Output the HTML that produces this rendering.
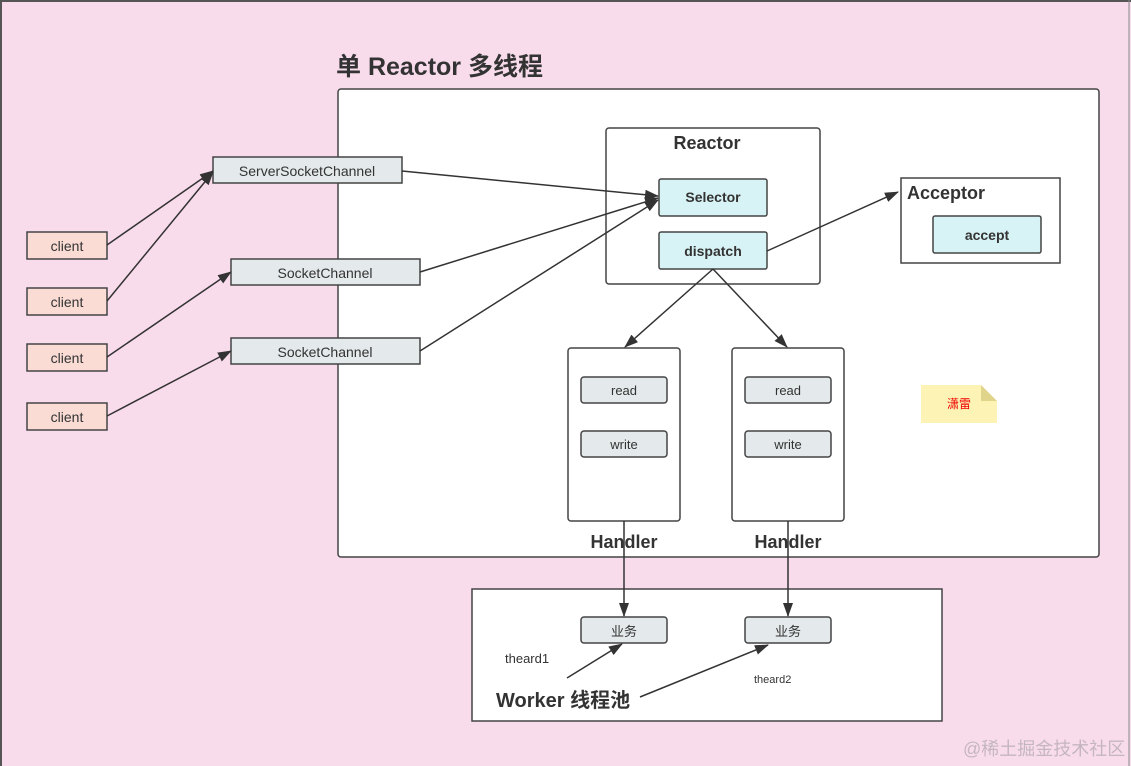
<!DOCTYPE html>
<html><head><meta charset="utf-8"><style>
html,body{margin:0;padding:0;width:1131px;height:766px;overflow:hidden;background:#f9dcec}
svg text{font-family:"Liberation Sans","Noto Sans CJK SC",sans-serif;fill:#333}
</style></head><body>
<svg width="1131" height="766" xmlns="http://www.w3.org/2000/svg">
<defs><marker id="a" markerWidth="14" markerHeight="10" refX="13" refY="5" orient="auto" markerUnits="userSpaceOnUse"><path d="M0,0 L14,5 L0,10 z" fill="#333"/></marker></defs>
<rect x="0" y="0" width="1131" height="766" fill="#f9dcec"/>
<line x1="1" y1="0" x2="1" y2="766" stroke="#555" stroke-width="2"/>
<line x1="0" y1="1" x2="1131" y2="1" stroke="#555" stroke-width="2"/>
<line x1="1129" y1="0" x2="1129" y2="766" stroke="#888" stroke-width="1"/>
<text x="336" y="75" font-size="25" font-weight="bold">单 Reactor 多线程</text>
<rect x="338" y="89" width="761" height="468" rx="3" fill="#fff" stroke="#444" stroke-width="1.5"/>
<rect x="472" y="589" width="470" height="132" fill="#fff" stroke="#444" stroke-width="1.5"/>
<g stroke="#444" stroke-width="1.5" fill="#fadcd5">
<rect x="27" y="232" width="80" height="27"/><rect x="27" y="288" width="80" height="27"/>
<rect x="27" y="344" width="80" height="27"/><rect x="27" y="403" width="80" height="27"/>
</g>
<g font-size="14" text-anchor="middle"><text x="67" y="251">client</text><text x="67" y="307">client</text><text x="67" y="363">client</text><text x="67" y="422">client</text></g>
<g stroke="#444" stroke-width="1.5" fill="#e4e9eb">
<rect x="213" y="157" width="189" height="26"/><rect x="231" y="259" width="189" height="26"/><rect x="231" y="338" width="189" height="26"/>
</g>
<g font-size="14" text-anchor="middle"><text x="307" y="176">ServerSocketChannel</text><text x="325" y="278">SocketChannel</text><text x="325" y="357">SocketChannel</text></g>
<rect x="606" y="128" width="214" height="156" rx="3" fill="#fff" stroke="#444" stroke-width="1.5"/>
<text x="707" y="149" font-size="18" font-weight="bold" text-anchor="middle">Reactor</text>
<g stroke="#444" stroke-width="1.5" fill="#d8f3f5">
<rect x="659" y="179" width="108" height="37" rx="2"/><rect x="659" y="232" width="108" height="37" rx="2"/></g>
<g font-size="14" font-weight="bold" text-anchor="middle"><text x="713" y="202">Selector</text><text x="713" y="256">dispatch</text></g>
<rect x="901" y="178" width="159" height="85" fill="#fff" stroke="#444" stroke-width="1.5"/>
<rect x="933" y="216" width="108" height="37" rx="2" fill="#d8f3f5" stroke="#444" stroke-width="1.5"/>
<text x="987" y="240" font-size="14" font-weight="bold" text-anchor="middle">accept</text>
<text x="907" y="199" font-size="18" font-weight="bold">Acceptor</text>
<g stroke="#444" stroke-width="1.5" fill="#fff"><rect x="568" y="348" width="112" height="173" rx="3"/><rect x="732" y="348" width="112" height="173" rx="3"/></g>
<g stroke="#444" stroke-width="1.5" fill="#e4e9eb">
<rect x="581" y="377" width="86" height="26" rx="3"/><rect x="581" y="431" width="86" height="26" rx="3"/>
<rect x="745" y="377" width="86" height="26" rx="3"/><rect x="745" y="431" width="86" height="26" rx="3"/>
<rect x="581" y="617" width="86" height="26" rx="3"/><rect x="745" y="617" width="86" height="26" rx="3"/></g>
<g font-size="13" text-anchor="middle"><text x="624" y="395">read</text><text x="624" y="449">write</text><text x="788" y="395">read</text><text x="788" y="449">write</text><text x="624" y="636">业务</text><text x="788" y="636">业务</text></g>
<g font-size="18" font-weight="bold" text-anchor="middle"><text x="624" y="548">Handler</text><text x="788" y="548">Handler</text></g>
<text x="496" y="707" font-size="20" font-weight="bold">Worker 线程池</text>
<text x="505" y="663" font-size="13">theard1</text>
<text x="754" y="683" font-size="11">theard2</text>
<path d="M921,385 L981,385 L997,401 L997,423 L921,423 z" fill="#fdf3b4"/>
<path d="M981,385 L997,401 L981,401 z" fill="#e0d38a"/>
<text x="959" y="408" font-size="12" style="fill:#e00" text-anchor="middle">潇雷</text>
<text x="963" y="755" font-size="18" style="fill:#c4b6bf">@稀土掘金技术社区</text>
<g stroke="#333" stroke-width="1.5" fill="none" marker-end="url(#a)">
<line x1="107" y1="245" x2="213" y2="171"/>
<line x1="107" y1="301" x2="213" y2="172"/>
<line x1="107" y1="357" x2="231" y2="272"/>
<line x1="107" y1="416" x2="231" y2="351"/>
<line x1="402" y1="171" x2="658" y2="196"/>
<line x1="420" y1="272" x2="658" y2="198"/>
<line x1="420" y1="351" x2="658" y2="200"/>
<line x1="767" y1="251" x2="898" y2="192"/>
<line x1="713" y1="269" x2="625" y2="347"/>
<line x1="713" y1="269" x2="787" y2="347"/>
<line x1="624" y1="521" x2="624" y2="616"/>
<line x1="788" y1="521" x2="788" y2="616"/>
<line x1="567" y1="678" x2="622" y2="644"/>
<line x1="640" y1="697" x2="768" y2="645"/>
</g>
</svg>
</body></html>
